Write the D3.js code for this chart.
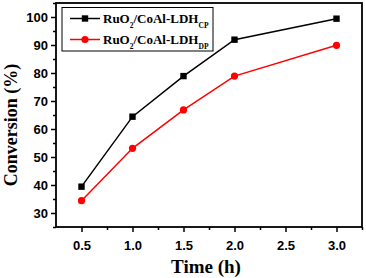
<!DOCTYPE html>
<html>
<head>
<meta charset="utf-8">
<script src="https://cdn.jsdelivr.net/npm/d3@7"></script>
<style>
  body { margin: 0; background: #fff; }
  .tick text { font-family: "Liberation Sans", Arial, sans-serif; font-weight: bold; font-size: 13px; }
  .ttl { font-family: "Liberation Serif", "Times New Roman", serif; font-weight: bold; }
</style>
</head>
<body>
<div id="chart"></div>
<script>
var times = [0.5, 1.0, 1.5, 2.0, 3.0];
var convCP = [39.4, 64.4, 78.9, 91.9, 99.4];
var convDP = [34.4, 53.1, 66.8, 78.9, 89.9];
var xTicks = [0.5, 1.0, 1.5, 2.0, 2.5, 3.0];
var yTicks = [30, 40, 50, 60, 70, 80, 90, 100];

var width = 366, height = 278;
var plotL = 56, plotR = 362, plotT = 3, plotB = 227;

var svg = d3.select('#chart').append('svg')
  .attr('width', width)
  .attr('height', height);

var x = d3.scaleLinear().domain([0.25, 3.25]).range([plotL, plotR]);
var y = d3.scaleLinear().domain([25, 105]).range([plotB, plotT]);

// minor ticks first, then major axes
svg.append('g')
  .attr('transform', `translate(0,${plotB})`)
  .call(d3.axisBottom(x).tickValues(d3.range(0.75, 3.3, 0.5)).tickSize(3).tickFormat(''))
  .call(g => g.select('.domain').remove());
svg.append('g')
  .attr('transform', `translate(${plotL},0)`)
  .call(d3.axisLeft(y).tickValues(d3.range(25, 106, 10)).tickSize(3).tickFormat(''))
  .call(g => g.select('.domain').remove());

svg.append('g')
  .attr('transform', `translate(0,${plotB})`)
  .call(d3.axisBottom(x).tickValues(xTicks).tickSize(5).tickPadding(9).tickFormat(d3.format('.1f')))
  .call(g => g.select('.domain').remove());
svg.append('g')
  .attr('transform', `translate(${plotL},0)`)
  .call(d3.axisLeft(y).tickValues(yTicks).tickSize(5).tickPadding(3))
  .call(g => g.select('.domain').remove());

svg.selectAll('.tick line').attr('stroke', '#000').attr('stroke-width', 1.5);

// frame
svg.append('rect')
  .attr('x', plotL).attr('y', plotT)
  .attr('width', plotR - plotL).attr('height', plotB - plotT)
  .attr('fill', 'none').attr('stroke', '#000').attr('stroke-width', 1.8);

var series = [
  {name: 'CP', vals: convCP, color: '#000', shape: 'square'},
  {name: 'DP', vals: convDP, color: '#ff0000', shape: 'circle'}
];

var line = d3.line().x(d => x(d[0])).y(d => y(d[1]));

series.forEach(function(s) {
  var pts = times.map((t, i) => [t, s.vals[i]]);
  svg.append('path')
    .attr('d', line(pts))
    .attr('fill', 'none')
    .attr('stroke', s.color)
    .attr('stroke-width', 1.5);
  if (s.shape == 'square') {
    svg.selectAll('.sq').data(pts).enter().append('rect')
      .attr('x', d => x(d[0]) - 3.2).attr('y', d => y(d[1]) - 3.2)
      .attr('width', 6.4).attr('height', 6.4)
      .attr('fill', s.color);
  } else {
    svg.selectAll('.ci').data(pts).enter().append('circle')
      .attr('cx', d => x(d[0])).attr('cy', d => y(d[1]))
      .attr('r', 3.6)
      .attr('fill', s.color);
  }
});

// legend
var lg = svg.append('g');
lg.append('rect')
  .attr('x', 62).attr('y', 7.5).attr('width', 151).attr('height', 43.5)
  .attr('fill', '#fff').attr('stroke', '#000').attr('stroke-width', 1);

series.forEach(function(s, i) {
  var ly = 18.5 + i * 21;
  lg.append('line')
    .attr('x1', 70).attr('x2', 100).attr('y1', ly).attr('y2', ly)
    .attr('stroke', s.color).attr('stroke-width', 1.5);
  if (s.shape == 'square') {
    lg.append('rect').attr('x', 85 - 3.2).attr('y', ly - 3.2).attr('width', 6.4).attr('height', 6.4).attr('fill', s.color);
  } else {
    lg.append('circle').attr('cx', 85).attr('cy', ly).attr('r', 3.6).attr('fill', s.color);
  }
  var t = lg.append('text').attr('class', 'ttl')
    .attr('x', 103).attr('y', ly + 4)
    .style('font-size', '13px');
  t.append('tspan').text('RuO');
  t.append('tspan').attr('dy', 5).style('font-size', '7.5px').text('2');
  t.append('tspan').attr('dy', -5).text('/CoAl-LDH');
  t.append('tspan').attr('dy', 5).style('font-size', '7.5px').text(s.name);
});

// axis titles
svg.append('text').attr('class', 'ttl')
  .attr('x', 206).attr('y', 273)
  .attr('text-anchor', 'middle')
  .style('font-size', '19px')
  .text('Time (h)');

svg.append('text').attr('class', 'ttl')
  .attr('transform', 'translate(17,125) rotate(-90)')
  .attr('text-anchor', 'middle')
  .style('font-size', '18px')
  .text('Conversion (%)');
</script>
</body>
</html>
